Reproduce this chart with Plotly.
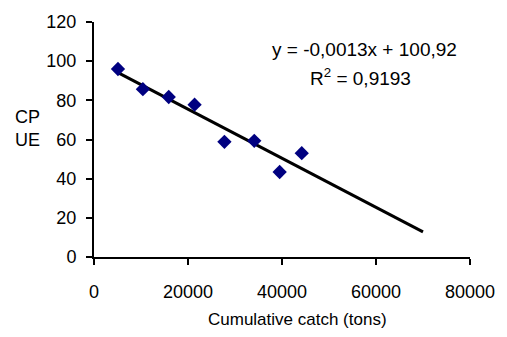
import numpy as np
import plotly.graph_objects as go

catch_tons = [5100, 10400, 15900, 21400, 27750, 34100, 39500, 44200]
cpue = [96.0, 85.7, 81.7, 77.8, 58.8, 59.3, 43.4, 53.0]
trend_x_end = 70000
x_ticks = [0, 20000, 40000, 60000, 80000]
y_ticks = [0, 20, 40, 60, 80, 100, 120]

slope, intercept = np.polyfit(catch_tons, cpue, 1)
tx = np.array([min(catch_tons), trend_x_end])
ty = slope * tx + intercept

font = "Liberation Sans, Arial, sans-serif"
fig = go.Figure()
fig.add_trace(go.Scatter(x=tx, y=ty, mode="lines",
                         line=dict(color="black", width=3), showlegend=False))
fig.add_trace(go.Scatter(x=catch_tons, y=cpue, mode="markers",
                         marker=dict(symbol="diamond", size=11, color="#000080"),
                         showlegend=False))

fig.add_annotation(text="y = -0,0013x + 100,92", xref="x", yref="y", x=57500, y=106.2,
                   showarrow=False, font=dict(family=font, size=19, color="black"))
fig.add_annotation(text="R<sup>2</sup> = 0,9193", xref="x", yref="y", x=56800, y=92,
                   showarrow=False, font=dict(family=font, size=19, color="black"))
fig.add_annotation(text="CP<br>UE", xref="paper", yref="paper", x=-0.176, y=0.547,
                   xanchor="center", yanchor="middle", showarrow=False, align="center",
                   font=dict(family=font, size=18, color="black"))
fig.add_annotation(text="Cumulative catch (tons)", xref="paper", yref="paper",
                   x=0.54, y=-0.264, xanchor="center", yanchor="middle", showarrow=False,
                   font=dict(family=font, size=17, color="black"))

fig.update_layout(
    width=507, height=337, margin=dict(l=94, r=33, t=15, b=80),
    plot_bgcolor="white", paper_bgcolor="white",
    font=dict(family=font, size=18, color="black"),
    xaxis=dict(range=[0, 80000], tickvals=x_ticks, ticktext=[str(v) for v in x_ticks],
               showline=True, linecolor="black", linewidth=2, showgrid=False, zeroline=False,
               ticks="outside", ticklen=6, tickwidth=2, tickcolor="black",
               ticklabelstandoff=11, tickfont=dict(size=18)),
    yaxis=dict(range=[0, 120], tickvals=y_ticks, showline=True, linecolor="black",
               linewidth=2, showgrid=False, zeroline=False, ticks="outside", ticklen=6,
               tickwidth=2, tickcolor="black", ticklabelstandoff=6,
               tickfont=dict(size=18)),
)
fig.write_html("out.html")
